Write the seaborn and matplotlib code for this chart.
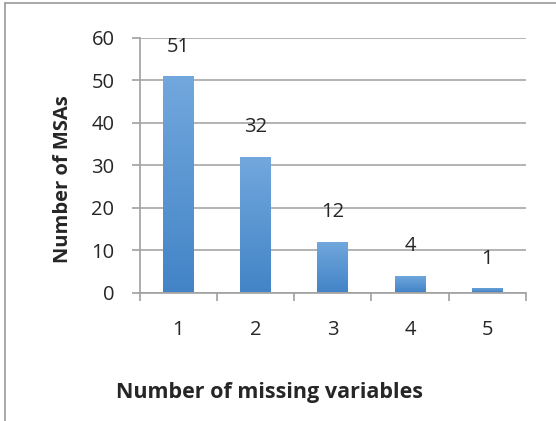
import numpy as np
import pandas as pd
import matplotlib
matplotlib.use("Agg")
import matplotlib.pyplot as plt
import seaborn as sns
from matplotlib.colors import LinearSegmentedColormap
from matplotlib.lines import Line2D

categories = ["1", "2", "3", "4", "5"]
counts = [51, 32, 12, 4, 1]
y_ticks = [0, 10, 20, 30, 40, 50, 60]
x_title = "Number of missing variables"
y_title = "Number of MSAs"

sns.set_style("white")
plt.rcParams["font.family"] = ["Open Sans", "DejaVu Sans"]

df = pd.DataFrame({"cat": categories, "n": counts})

fig = plt.figure(figsize=(5.56, 4.21), dpi=100)
ax = fig.add_axes([139.5 / 556, 1 - 292.5 / 421, (526 - 139.5) / 556, (292.5 - 37.7) / 421])

sns.barplot(data=df, x="cat", y="n", order=categories, color="#5b97d4",
            width=0.4, ax=ax, zorder=3, saturation=1)

FS = 14.5
ax.set_ylim(0, 60)
ax.set_xlim(-0.5, 4.5)
ax.set_yticks(y_ticks)
ax.set_yticklabels([str(t) for t in y_ticks], fontsize=FS)
ax.set_xticks(range(len(categories)))
ax.set_xticklabels(categories, fontsize=FS)
ax.set_xlabel("")
ax.set_ylabel("")

ax.yaxis.grid(True, color="#a6a6a6", linewidth=1.2, zorder=0)
ax.set_axisbelow(True)
for s in ["top", "right"]:
    ax.spines[s].set_visible(False)
for s in ["left", "bottom"]:
    ax.spines[s].set_color("#a0a0a0")
    ax.spines[s].set_linewidth(1.2)

ax.tick_params(axis="y", which="major", length=6, width=1.2, color="#a0a0a0",
               direction="out", pad=12, left=True)
ax.tick_params(axis="x", which="major", length=0, pad=20)
ax.set_xticks([i - 0.5 for i in range(len(categories) + 1)], minor=True)
ax.tick_params(axis="x", which="minor", length=6, width=1.2, color="#a0a0a0",
               direction="out", bottom=True)

# gradient fill on bars
cmap = LinearSegmentedColormap.from_list("g", ["#4384c7", "#72a8dd"])
grad = np.linspace(0, 1, 256).reshape(-1, 1)
for p in list(ax.patches):
    x0, y0 = p.get_x(), p.get_y()
    w, h = p.get_width(), p.get_height()
    im = ax.imshow(grad, cmap=cmap, origin="lower", aspect="auto",
                   extent=[x0, x0 + w, y0, y0 + h], zorder=3.5)
    im.set_clip_path(p)
    p.set_facecolor("none")
    p.set_edgecolor("none")
ax.set_xlim(-0.5, 4.5)
ax.set_ylim(0, 60)

for i, v in enumerate(counts):
    ax.annotate(str(v), (i, v), xytext=(0, 21), textcoords="offset points",
                ha="center", va="center", fontsize=FS)

fig.text(269 / 556, 1 - 398 / 421, x_title, ha="center", va="baseline",
         fontsize=15.5, fontweight="bold")
fig.text(63 / 556, 1 - 179 / 421, y_title, ha="center", va="center",
         fontsize=FS, fontweight="bold", rotation=90)

# outer frame (top and left visible)
fig.add_artist(Line2D([5 / 556, 5 / 556], [0, 1 - 2.5 / 421], transform=fig.transFigure,
                      color="#9a9a9a", linewidth=1.2))
fig.add_artist(Line2D([5 / 556, 1], [1 - 2.5 / 421, 1 - 2.5 / 421], transform=fig.transFigure,
                      color="#9a9a9a", linewidth=1.2))

fig.savefig("out.png", dpi=100)
